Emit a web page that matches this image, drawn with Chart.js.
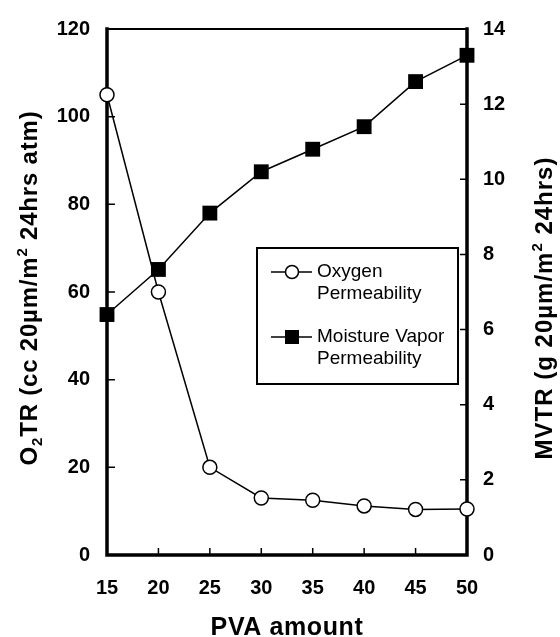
<!DOCTYPE html>
<html>
<head>
<meta charset="utf-8">
<script src="https://cdn.jsdelivr.net/npm/chart.js@4/dist/chart.umd.min.js"></script>
<style>
  body { margin: 0; background: #fff; }
  #wrap { width: 560px; height: 637px; position: relative; }
</style>
</head>
<body>
<div id="wrap"><canvas id="barrierChart"></canvas></div>
<script>
// data
const pvaAmount = [15, 20, 25, 30, 35, 40, 45, 50];
const oxygenTR = [105, 60, 20, 13, 12.5, 11.2, 10.4, 10.5];
const moistureTR = [6.4, 7.6, 9.1, 10.2, 10.8, 11.4, 12.6, 13.3];
const oxygenLabel = ['Oxygen', 'Permeability'];
const moistureLabel = ['Moisture Vapor', 'Permeability'];

const FONT = '"Liberation Sans", Arial, Helvetica, sans-serif';

// draws text pieces with sub/superscripts, centred on (0,0)
function drawRichText(ctx, parts, size, spacing) {
  const small = Math.round(size * 0.62);
  ctx.letterSpacing = (spacing || 0) + 'px';
  let total = 0;
  parts.forEach(p => {
    ctx.font = 'bold ' + (p.shift ? small : size) + 'px ' + FONT;
    p.w = ctx.measureText(p.t).width;
    total += p.w;
  });
  let x = -total / 2;
  ctx.textAlign = 'left';
  ctx.textBaseline = 'alphabetic';
  parts.forEach(p => {
    ctx.font = 'bold ' + (p.shift ? small : size) + 'px ' + FONT;
    const dy = p.shift === 'sub' ? size * 0.22 : p.shift === 'sup' ? -size * 0.42 : 0;
    ctx.fillText(p.t, x, size * 0.36 + dy);
    x += p.w;
  });
  ctx.letterSpacing = '0px';
}

const framePlugin = {
  id: 'framePlugin',
  beforeDatasetsDraw(chart) {
    const { ctx, chartArea: a, scales } = chart;
    ctx.save();
    ctx.strokeStyle = '#000';
    ctx.lineCap = 'square';
    // frame
    ctx.lineWidth = 2;
    ctx.beginPath();
    ctx.moveTo(a.left, a.top); ctx.lineTo(a.right, a.top);
    ctx.stroke();
    ctx.lineWidth = 3.5;
    ctx.beginPath();
    ctx.moveTo(a.left, a.top); ctx.lineTo(a.left, a.bottom);
    ctx.lineTo(a.right, a.bottom); ctx.lineTo(a.right, a.top);
    ctx.stroke();
    // inward tick marks
    ctx.lineWidth = 1.5;
    ctx.lineCap = 'butt';
    ctx.beginPath();
    scales.y.ticks.forEach(t => {
      const py = scales.y.getPixelForValue(t.value);
      ctx.moveTo(a.left, py); ctx.lineTo(a.left + 8, py);
    });
    scales.y2.ticks.forEach(t => {
      const py = scales.y2.getPixelForValue(t.value);
      ctx.moveTo(a.right, py); ctx.lineTo(a.right - 7, py);
    });
    scales.x.ticks.forEach(t => {
      const px = scales.x.getPixelForValue(t.value);
      ctx.moveTo(px, a.bottom); ctx.lineTo(px, a.bottom - 7);
    });
    ctx.stroke();
    ctx.restore();
  },
  afterDraw(chart) {
    const { ctx } = chart;
    ctx.save();
    ctx.fillStyle = '#000';
    // left title
    ctx.save();
    ctx.translate(28, 288);
    ctx.rotate(-Math.PI / 2);
    drawRichText(ctx, [
      { t: 'O' }, { t: '2', shift: 'sub' }, { t: 'TR (cc 20µm/m' },
      { t: '2', shift: 'sup' }, { t: ' 24hrs atm)' }
    ], 24, 0.8);
    ctx.restore();
    // right title
    ctx.save();
    ctx.translate(543, 308);
    ctx.rotate(-Math.PI / 2);
    drawRichText(ctx, [
      { t: 'MVTR (g 20µm/m' }, { t: '2', shift: 'sup' }, { t: ' 24hrs)' }
    ], 24, 1);
    ctx.restore();
    // x title
    ctx.save();
    ctx.translate(287, 626);
    drawRichText(ctx, [{ t: 'PVA amount' }], 25, 0.6);
    ctx.restore();

    // legend box
    const bx = 257, by = 248, bw = 201, bh = 136;
    ctx.strokeStyle = '#000';
    ctx.lineWidth = 2;
    ctx.strokeRect(bx, by, bw, bh);
    ctx.font = '19px ' + FONT;
    ctx.textAlign = 'left';
    ctx.textBaseline = 'middle';
    const rows = [
      { y: 272, lines: oxygenLabel, style: 'circle' },
      { y: 337, lines: moistureLabel, style: 'square' }
    ];
    rows.forEach(r => {
      ctx.lineWidth = 1.5;
      ctx.beginPath();
      ctx.moveTo(271, r.y); ctx.lineTo(312, r.y);
      ctx.stroke();
      if (r.style === 'circle') {
        ctx.beginPath();
        ctx.arc(292, r.y, 6.5, 0, Math.PI * 2);
        ctx.fillStyle = '#fff';
        ctx.fill();
        ctx.stroke();
      } else {
        ctx.fillStyle = '#000';
        ctx.fillRect(285, r.y - 7, 14, 14);
      }
      ctx.fillStyle = '#000';
      ctx.fillText(r.lines[0], 317, r.y);
      ctx.fillText(r.lines[1], 317, r.y + 22);
    });
    ctx.restore();
  }
};

const tickFont = { family: FONT, size: 20, weight: 'bold' };

new Chart(document.getElementById('barrierChart'), {
  type: 'line',
  data: {
    datasets: [
      {
        label: 'Oxygen Permeability',
        data: pvaAmount.map((x, i) => ({ x: x, y: oxygenTR[i] })),
        yAxisID: 'y',
        order: 1,
        borderColor: '#000',
        borderWidth: 1.5,
        pointStyle: 'circle',
        pointRadius: 7,
        pointBorderWidth: 1.5,
        pointBackgroundColor: '#fff',
        pointBorderColor: '#000',
        tension: 0,
        clip: false
      },
      {
        label: 'Moisture Vapor Permeability',
        data: pvaAmount.map((x, i) => ({ x: x, y: moistureTR[i] })),
        yAxisID: 'y2',
        order: 0,
        borderColor: '#000',
        borderWidth: 1.5,
        pointStyle: 'rect',
        pointRadius: 10.5,
        pointBorderWidth: 0,
        pointBackgroundColor: '#000',
        pointBorderColor: '#000',
        tension: 0,
        clip: false
      }
    ]
  },
  options: {
    responsive: true,
    maintainAspectRatio: false,
    animation: false,
    layout: { padding: { top: 25, left: 0, right: 0, bottom: 0 } },
    plugins: {
      legend: { display: false },
      tooltip: { enabled: false }
    },
    scales: {
      x: {
        type: 'linear',
        min: 15,
        max: 50,
        grid: { display: false, drawTicks: false },
        border: { display: false },
        ticks: { stepSize: 5, color: '#000', font: tickFont, padding: 21 },
        afterFit: (s) => { s.height = 82; }
      },
      y: {
        position: 'left',
        min: 0,
        max: 120,
        grid: { display: false, drawTicks: false },
        border: { display: false },
        ticks: { stepSize: 20, color: '#000', font: tickFont, padding: 17 },
        afterFit: (s) => { s.width = 107; }
      },
      y2: {
        position: 'right',
        min: 0,
        max: 14,
        grid: { display: false, drawTicks: false },
        border: { display: false },
        ticks: { stepSize: 2, color: '#000', font: tickFont, padding: 16 },
        afterFit: (s) => { s.width = 93; }
      }
    }
  },
  plugins: [framePlugin]
});
</script>
</body>
</html>
